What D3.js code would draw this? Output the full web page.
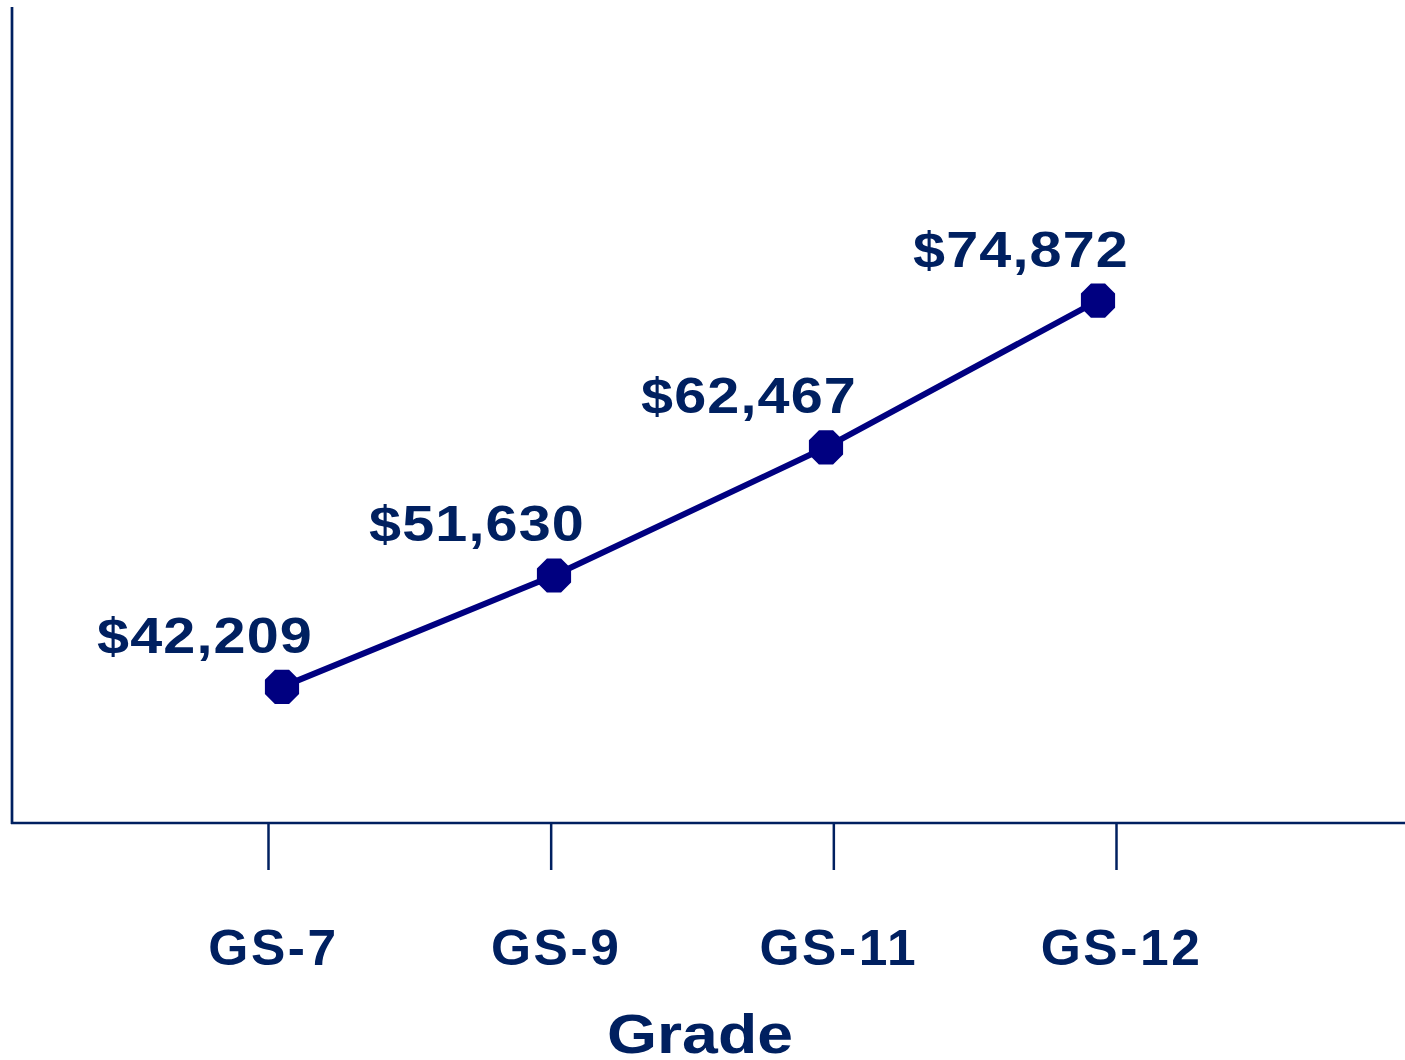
<!DOCTYPE html>
<html>
<head>
<meta charset="utf-8">
<script src="https://cdn.jsdelivr.net/npm/d3@7"></script>
<style>
html,body{margin:0;padding:0;background:#fff;}
svg{display:block;}
text{font-family:"Liberation Sans",Arial,Helvetica,sans-serif;font-weight:bold;fill:#002060;}
</style>
</head>
<body>
<svg id="chart" width="1405" height="1060"></svg>
<script>
const categories = ["GS-7", "GS-9", "GS-11", "GS-12"];
const salaries = [42209, 51630, 62467, 74872];
const labels = ["$42,209", "$51,630", "$62,467", "$74,872"];
const xTitle = "Grade";

const svg = d3.select("#chart");
const W = 1405, H = 1060;
const axisColor = "#002060", lineColor = "#000080";

const y = d3.scaleLinear().domain([30700, 99700]).range([823, 7]);
const xTick = d3.scalePoint().domain(categories).range([268, 1116]);
const xPt = d3.scalePoint().domain(categories).range([282, 1098]);

// axes
svg.append("line").attr("x1", 12).attr("x2", 12).attr("y1", y.range()[1]).attr("y2", 824)
  .attr("stroke", axisColor).attr("stroke-width", 2.7);
const xAxis = d3.axisBottom(xTick).tickSize(47).tickFormat("");
const gx = svg.append("g").attr("transform", "translate(0,823)").call(xAxis);
gx.select(".domain").remove();
gx.selectAll(".tick line").attr("stroke", axisColor).attr("stroke-width", 2.5);
gx.selectAll(".tick text").remove();
gx.selectAll(".tick").append("text")
  .attr("transform", "translate(5,142) scale(1.03,1)")
  .attr("text-anchor", "middle")
  .style("font-size", "50px").style("letter-spacing", "2.5px")
  .text(d => d);
svg.append("line").attr("x1", 11).attr("x2", W).attr("y1", 823).attr("y2", 823)
  .attr("stroke", axisColor).attr("stroke-width", 2.7);

svg.append("text").attr("transform", "translate(700,1053) scale(1.17,1)").attr("text-anchor", "middle")
  .style("font-size", "55px").text(xTitle);

// line
const data = categories.map((c, i) => ({c, v: salaries[i], l: labels[i]}));
svg.append("path").datum(data)
  .attr("d", d3.line().x(d => xPt(d.c)).y(d => y(d.v)))
  .attr("fill", "none").attr("stroke", lineColor).attr("stroke-width", 6);

// octagon markers
const r = 18.5;
const oct = d3.range(8).map(k => {
  const a = Math.PI / 8 + k * Math.PI / 4;
  return [r * Math.cos(a), r * Math.sin(a)];
});
svg.selectAll("path.mk").data(data).join("path").attr("class", "mk")
  .attr("transform", d => `translate(${xPt(d.c)},${y(d.v)})`)
  .attr("d", "M" + oct.map(p => p.join(",")).join("L") + "Z")
  .attr("fill", lineColor);

svg.selectAll("text.lab").data(data).join("text").attr("class", "lab")
  .attr("transform", d => `translate(${xPt(d.c) - 77},${y(d.v) - 34}) scale(1.15,1)`)
  .attr("text-anchor", "middle")
  .style("font-size", "50px").style("letter-spacing", "1px")
  .text(d => d.l);
</script>
</body>
</html>
